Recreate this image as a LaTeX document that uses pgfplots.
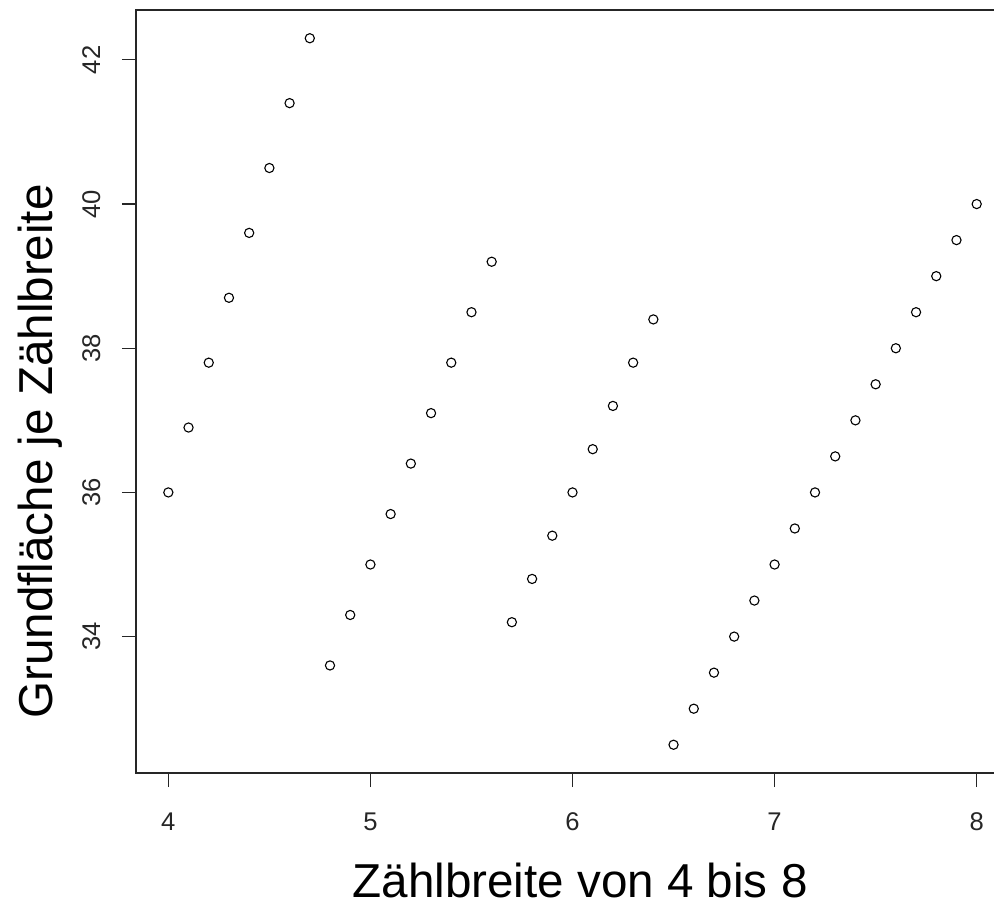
\documentclass[border=0pt]{standalone}
\usepackage{pgfplots}
\pgfplotsset{compat=1.18}
\usepackage{fontspec}
\setmainfont{Liberation Sans}
\begin{document}
\begin{tikzpicture}
\path[use as bounding box, clip] (0,0) rectangle (497pt,452.5pt);
\begin{axis}[
  at={(68pt,66pt)}, anchor=south west,
  scale only axis, width=436.5pt, height=381.5pt,
  xmin=3.84, xmax=8.16, ymin=32.108, ymax=42.692,
  xtick={4,5,6,7,8}, ytick={34,36,38,40,42},
  xtick pos=bottom, ytick pos=left, tick align=outside,
  major tick length=7pt,
  axis line style={line width=0.6pt, black!85},
  tick style={line width=0.6pt, black!85},
  /pgf/number format/assume math mode=true,
  ticklabel style={font=\fontsize{12.8}{15}\selectfont, inner sep=0pt, text=black!85},
  xticklabel style={anchor=base, yshift=-21.5pt},
  yticklabel style={xshift=-11pt, rotate=90, anchor=base},
  xlabel={Zählbreite von 4 bis 8},
  ylabel={Grundfläche je Zählbreite},
  label style={font=\fontsize{23.8}{28}\selectfont, inner sep=0pt},
  xlabel style={at={(axis description cs:0.5086,-0.163)}, anchor=base},
  ylabel style={at={(axis description cs:-0.0951,0.4214)}, anchor=base, rotate=0},
]
\addplot[only marks, mark=o, mark size=2.3pt, mark options={line width=0.55pt, black}] coordinates {
(4.0,36.0) (4.1,36.9) (4.2,37.8) (4.3,38.7) (4.4,39.6) (4.5,40.5) (4.6,41.4) (4.7,42.3)
(4.8,33.6) (4.9,34.3) (5.0,35.0) (5.1,35.7) (5.2,36.4) (5.3,37.1) (5.4,37.8) (5.5,38.5) (5.6,39.2)
(5.7,34.2) (5.8,34.8) (5.9,35.4) (6.0,36.0) (6.1,36.6) (6.2,37.2) (6.3,37.8) (6.4,38.4)
(6.5,32.5) (6.6,33.0) (6.7,33.5) (6.8,34.0) (6.9,34.5) (7.0,35.0) (7.1,35.5) (7.2,36.0)
(7.3,36.5) (7.4,37.0) (7.5,37.5) (7.6,38.0) (7.7,38.5) (7.8,39.0) (7.9,39.5) (8.0,40.0)
};
\end{axis}
\end{tikzpicture}
\end{document}
